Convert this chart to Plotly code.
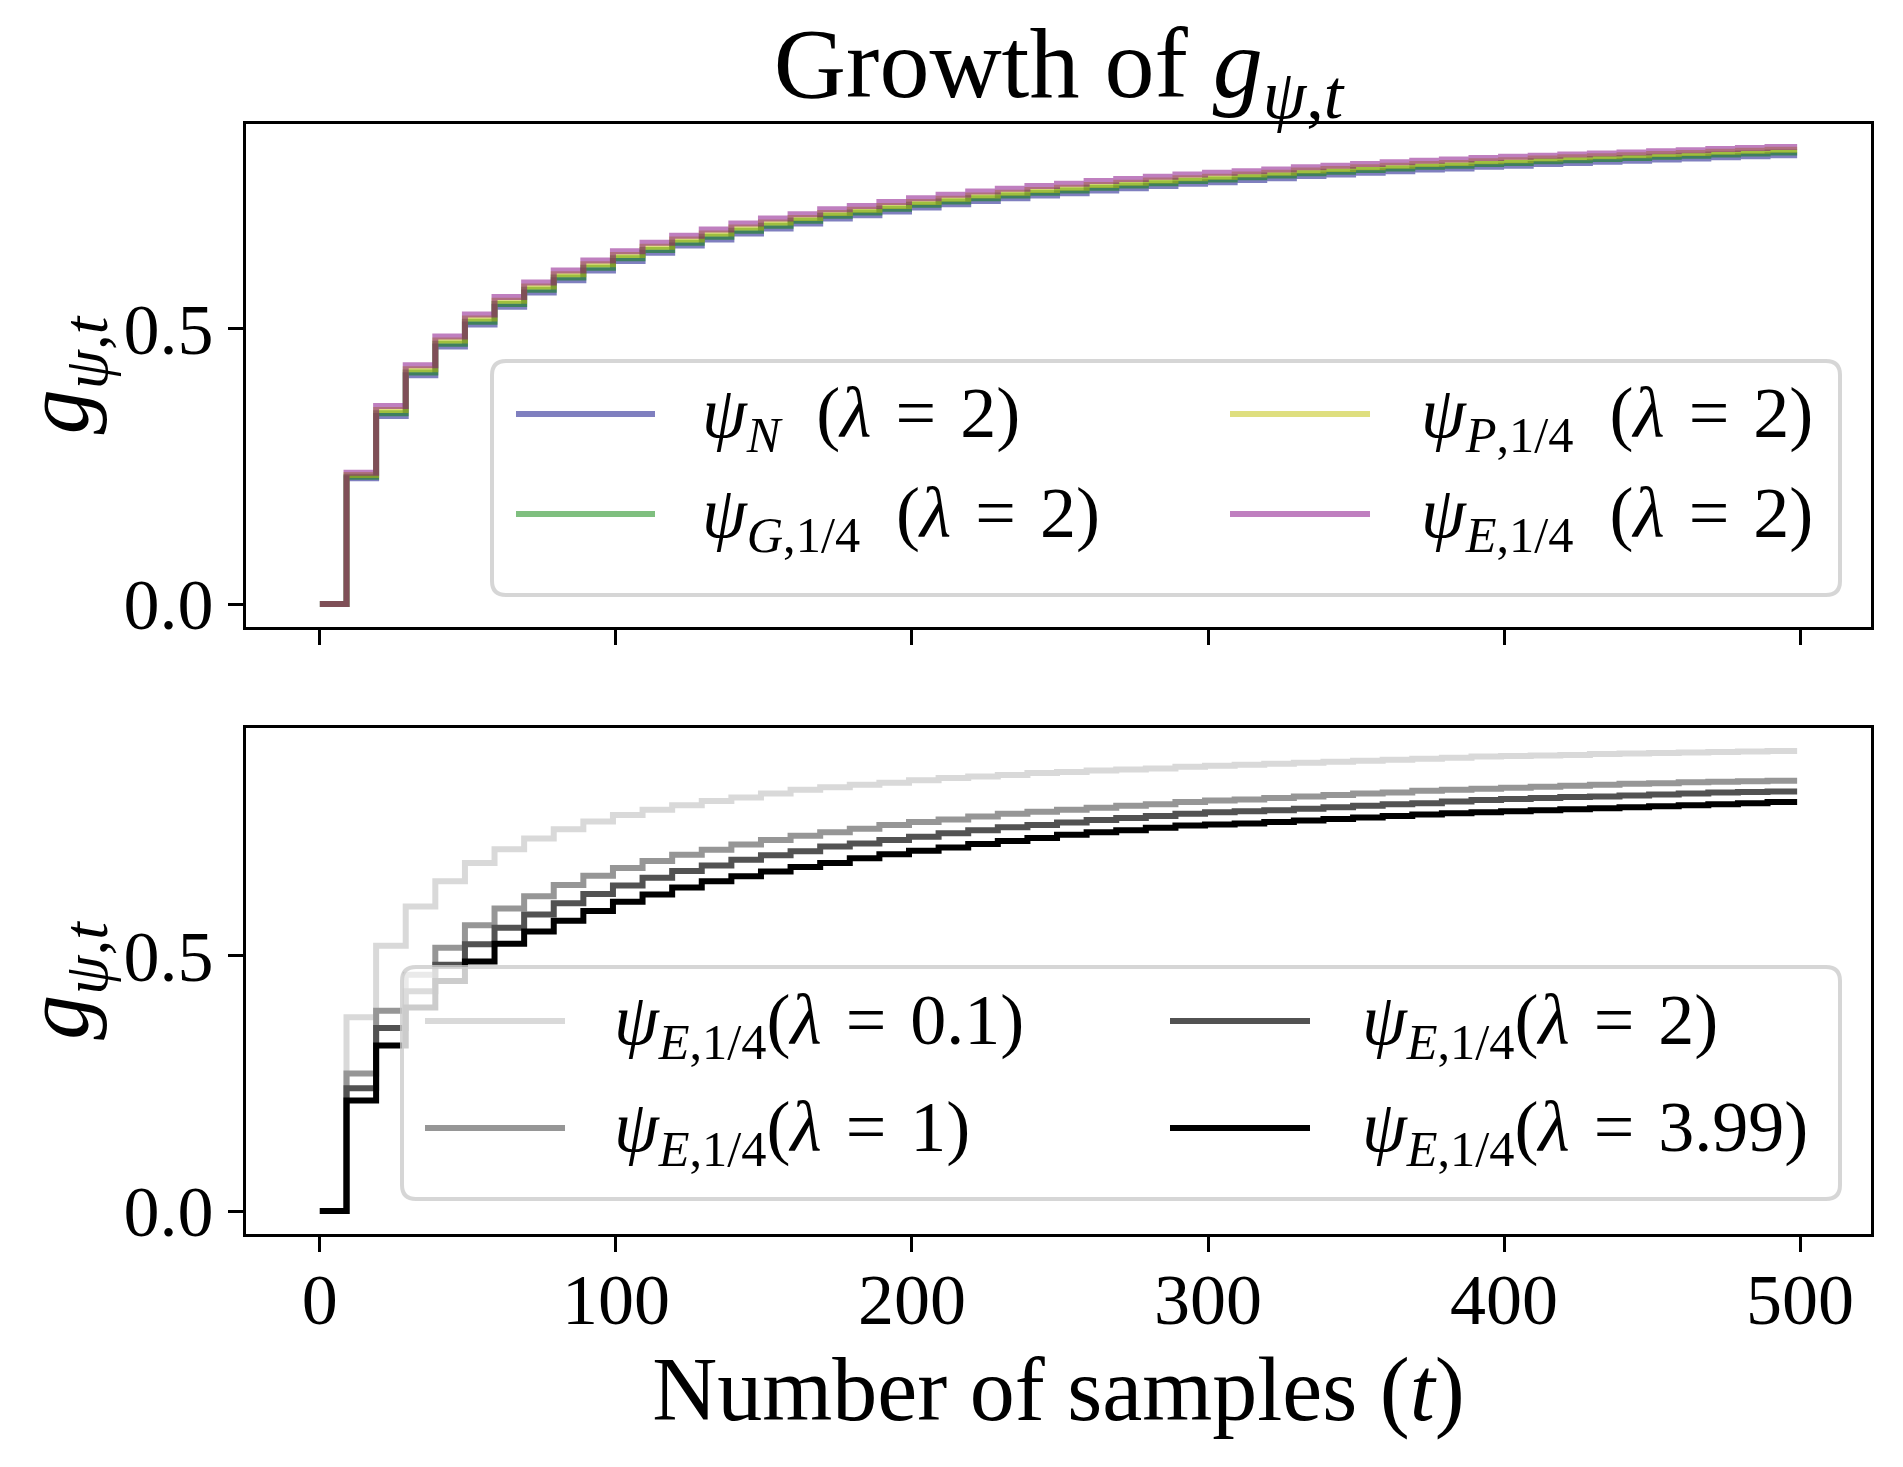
import plotly.graph_objects as go
from plotly.subplots import make_subplots

# ---------------- data ----------------
# step start times (a new value appears every 10 samples), last sample index
t_start = [0] + list(range(9, 490, 10))
t_last = 499

# top panel: different psi, lambda = 2
g_N = [0, .228, .341, .415, .467, .507, .539, .565, .587, .605, .622, .637, .650, .661, .672, .681,
       .690, .699, .705, .712, .719, .725, .731, .736, .741, .745, .750, .754, .758, .762, .765, .769,
       .772, .776, .779, .782, .785, .788, .790, .793, .795, .798, .800, .802, .804, .806, .808, .810,
       .812, .814]
g_G = [0, .231, .346, .420, .472, .512, .544, .570, .592, .610, .627, .642, .655, .666, .677, .686,
       .695, .704, .710, .717, .724, .730, .736, .741, .746, .750, .755, .759, .763, .767, .770, .774,
       .777, .781, .784, .787, .790, .793, .795, .798, .800, .803, .805, .807, .809, .811, .813, .815,
       .817, .819]
g_P = [0, .234, .352, .426, .478, .518, .550, .576, .598, .616, .633, .648, .661, .672, .683, .692,
       .700, .709, .715, .722, .729, .735, .741, .746, .751, .755, .760, .764, .768, .772, .775, .779,
       .782, .786, .789, .792, .795, .798, .800, .803, .805, .808, .810, .812, .814, .816, .818, .820,
       .822, .824]
g_E = [0, .238, .359, .433, .485, .525, .557, .583, .605, .623, .640, .655, .668, .679, .690, .699,
       .707, .716, .722, .729, .736, .742, .748, .753, .758, .762, .767, .771, .775, .779, .782, .785,
       .788, .792, .795, .798, .801, .804, .806, .809, .811, .813, .815, .817, .819, .821, .823, .825,
       .827, .829]

# bottom panel: psi_E,1/4 for several lambda
g_l01 = [0, .379, .519, .596, .645, .681, .708, .729, .747, .762, .775, .785, .794, .802, .809, .817,
         .824, .829, .834, .838, .843, .847, .850, .853, .857, .859, .862, .864, .866, .869, .871, .873,
         .875, .877, .879, .881, .883, .885, .887, .889, .890, .891, .892, .894, .895, .896, .897, .898,
         .899, .900]
g_l1 = [0, .269, .392, .462, .515, .559, .592, .616, .638, .656, .671, .685, .697, .707, .717, .726,
        .734, .741, .748, .755, .761, .766, .772, .777, .781, .785, .789, .793, .796, .800, .803, .805,
        .808, .811, .814, .817, .819, .822, .824, .826, .828, .830, .832, .834, .836, .837, .839, .840,
        .841, .842]
g_l2 = [0, .240, .358, .430, .482, .522, .554, .580, .602, .620, .637, .652, .665, .676, .687, .696,
        .704, .713, .719, .726, .732, .739, .745, .751, .755, .760, .765, .769, .773, .777, .780, .782,
        .784, .787, .790, .793, .796, .798, .801, .804, .806, .808, .810, .811, .813, .815, .817, .819,
        .820, .821]
g_l399 = [0, .216, .324, .398, .450, .488, .523, .547, .568, .587, .605, .619, .633, .645, .655, .664,
          .673, .681, .690, .698, .705, .711, .718, .724, .730, .736, .741, .745, .750, .754, .756, .758,
          .761, .764, .767, .770, .773, .776, .778, .780, .782, .784, .786, .788, .790, .792, .794, .796,
          .798, .800]

EQ = "\u2004=\u2004"
top_names = ["<i>ψ</i><sub><i>N</i></sub>\u2002(<i>λ</i>" + EQ + "2)",
             "<i>ψ</i><sub><i>G</i>,1/4</sub>\u2002(<i>λ</i>" + EQ + "2)",
             "<i>ψ</i><sub><i>P</i>,1/4</sub>\u2002(<i>λ</i>" + EQ + "2)",
             "<i>ψ</i><sub><i>E</i>,1/4</sub>\u2002(<i>λ</i>" + EQ + "2)"]
bot_names = ["<i>ψ</i><sub><i>E</i>,1/4</sub>(<i>λ</i>" + EQ + "0.1)",
             "<i>ψ</i><sub><i>E</i>,1/4</sub>(<i>λ</i>" + EQ + "1)",
             "<i>ψ</i><sub><i>E</i>,1/4</sub>(<i>λ</i>" + EQ + "2)",
             "<i>ψ</i><sub><i>E</i>,1/4</sub>(<i>λ</i>" + EQ + "3.99)"]
x_ticks = [0, 100, 200, 300, 400, 500]
y_ticks = [0.0, 0.5]
y_ticklabels = ["0.0", "0.5"]

# ---------------- styles ----------------
top_colors = ["rgba(0,0,128,0.5)", "rgba(0,128,0,0.5)", "rgba(191,191,0,0.5)", "rgba(128,0,128,0.5)"]
bot_colors = ["#d9d9d9", "#969696", "#525252", "#000000"]
LW = 6
FONT = "Liberation Serif"

OFF = 8  # page body margin
W, H = 1903 - OFF, 1467 - OFF
ML, MR, MT, MB = 246 - OFF, 32, 124 - OFF, 233
PW, PH = W - ML - MR, H - MT - MB


def px(X):
    return (X - OFF - ML) / PW


def py(Y):
    return (H - MB - (Y - OFF)) / PH


fig = make_subplots(rows=2, cols=1, shared_xaxes=True, vertical_spacing=0.0)

xs = t_start + [t_last]
for vals, name, col in zip([g_N, g_G, g_P, g_E], top_names, top_colors):
    fig.add_trace(go.Scatter(x=xs, y=vals + [vals[-1]], mode="lines", line_shape="hv",
                             line=dict(color=col, width=LW), name=name, showlegend=False),
                  row=1, col=1)
for vals, name, col in zip([g_l01, g_l1, g_l2, g_l399], bot_names, bot_colors):
    fig.add_trace(go.Scatter(x=xs, y=vals + [vals[-1]], mode="lines", line_shape="hv",
                             line=dict(color=col, width=LW), name=name, showlegend=False),
                  row=2, col=1)

axis_common = dict(showline=True, mirror=True, linecolor="black", linewidth=3,
                   ticks="outside", ticklen=15, tickwidth=3, tickcolor="black",
                   showgrid=False, zeroline=False, automargin=False,
                   tickfont=dict(family=FONT, size=72, color="black"))

top_dom = [(1234 - 627) / PH, 1.0]
bot_dom = [0.0, (1234 - 728) / PH]

fig.update_xaxes(range=[-24.95, 523.95], tickvals=x_ticks, **axis_common)
fig.update_xaxes(showticklabels=False, row=1, col=1)
fig.update_xaxes(ticktext=[str(v) for v in x_ticks], showticklabels=True, row=2, col=1,
                 ticklabelstandoff=-14,
                 title=dict(text="Number of samples (<i>t</i>)", standoff=14,
                            font=dict(family=FONT, size=90, color="black")))
ytitle = dict(text="<i>g</i><sub><i>ψ</i>,<i>t</i></sub>", standoff=22,
              font=dict(family=FONT, size=90, color="black"))
fig.update_yaxes(tickvals=y_ticks, ticktext=y_ticklabels, title=ytitle, **axis_common)
fig.update_yaxes(automargin=True)
fig.update_yaxes(range=[-0.0415, 0.8705], domain=top_dom, row=1, col=1)
fig.update_yaxes(range=[-0.045, 0.945], domain=bot_dom, row=2, col=1)


def rounded_box(x0, y0, x1, y1, r):
    rx, ry = r / PW, r / PH
    X0, X1 = px(x0), px(x1)
    Yt, Yb = py(y0), py(y1)
    return (f"M {X0 + rx},{Yb} L {X1 - rx},{Yb} Q {X1},{Yb} {X1},{Yb + ry} "
            f"L {X1},{Yt - ry} Q {X1},{Yt} {X1 - rx},{Yt} L {X0 + rx},{Yt} "
            f"Q {X0},{Yt} {X0},{Yt - ry} L {X0},{Yb + ry} Q {X0},{Yb} {X0 + rx},{Yb} Z")


shapes = []
annotations = []


def draw_legend(box, rows_y, cols, names, colors):
    x0, y0, x1, y1 = box
    shapes.append(dict(type="path", xref="paper", yref="paper", path=rounded_box(x0, y0, x1, y1, 14),
                       fillcolor="rgba(255,255,255,0.8)", line=dict(color="rgba(204,204,204,0.8)", width=4),
                       layer="above"))
    for i, (name, col) in enumerate(zip(names, colors)):
        c, r = divmod(i, 2)
        lx0, lx1, tx = cols[c]
        yy = rows_y[r]
        shapes.append(dict(type="line", xref="paper", yref="paper", x0=px(lx0), x1=px(lx1),
                           y0=py(yy), y1=py(yy), line=dict(color=col, width=LW), layer="above"))
        annotations.append(dict(xref="paper", yref="paper", x=px(tx), y=py(yy + 4), text=name,
                                showarrow=False, xanchor="left", yanchor="middle",
                                font=dict(family=FONT, size=72, color="black")))


draw_legend((492, 361, 1840, 595), [414, 514], [(516, 655, 700), (1230, 1370, 1419)],
            top_names, top_colors)
draw_legend((402, 967, 1840, 1199), [1021, 1128], [(425, 565, 612), (1170, 1310, 1360)],
            bot_names, bot_colors)

fig.update_layout(
    width=W, height=H,
    margin=dict(l=ML, r=MR, t=MT, b=MB, autoexpand=False),
    paper_bgcolor="white", plot_bgcolor="white",
    showlegend=False,
    title=dict(text="Growth of <i>g</i><sub><i>ψ</i>,<i>t</i></sub>", x=px((246 + 1871) / 2),
               xref="paper", xanchor="center", y=1 - (62 - OFF) / H, yanchor="middle",
               font=dict(family=FONT, size=100, color="black")),
    shapes=shapes, annotations=annotations,
)

fig.write_html("out.html")
